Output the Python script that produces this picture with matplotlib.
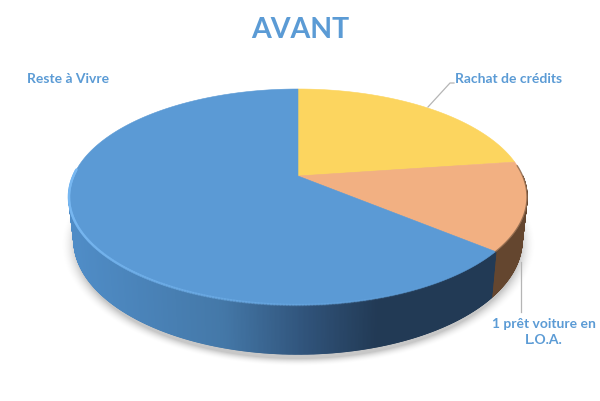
import numpy as np
import matplotlib
matplotlib.use("Agg")
import matplotlib.pyplot as plt
from matplotlib.collections import PolyCollection, LineCollection
from matplotlib.colors import LinearSegmentedColormap

title = "AVANT"
categories = ["Rachat de crédits", "1 prêt voiture en\nL.O.A.", "Reste à Vivre"]
values = [22.8, 13.2, 64.0]
colors = ["#FCD55F", "#F2B082", "#5B9AD5"]

plt.rcParams["font.family"] = ["Lato", "DejaVu Sans"]
fig = plt.figure(figsize=(6, 4.01), dpi=100)
ax = fig.add_axes([0, 0, 1, 1])
ax.set_xlim(0, 600)
ax.set_ylim(401, 0)
ax.axis("off")

cx, top_cy, rx, ry = 298.0, 197.0, 229.0, 108.0
bot_cy, bot_rx, bot_ry = 240.0, 224.0, 114.0
a = 21.0 / 108.0


def project(theta, y0=top_cy, sx=rx, sy=ry):
    """Perspective view of a disc; theta is clockwise from 12 o'clock."""
    u, v = np.sin(theta), np.cos(theta)
    k = 1 + a * v
    return cx + sx * u * np.sqrt(1 - a * a) / k, y0 - sy * (v + a) / k


# soft ground shadow
yy, xx = np.mgrid[0:401, 0:600]
r = np.hypot((xx - cx) / (bot_rx + 4), (yy - bot_cy - 4) / (bot_ry + 3))
alpha = np.clip((1.045 - r) / 0.07, 0, 1) ** 2 * 0.22
shadow = np.zeros((401, 600, 4))
shadow[..., 3] = alpha
ax.imshow(shadow, extent=(0, 600, 401, 0), aspect="auto", zorder=1)
ax.set_xlim(0, 600)
ax.set_ylim(401, 0)

edges = np.cumsum([0] + values) / sum(values) * 2 * np.pi
blue_cmap = LinearSegmentedColormap.from_list(
    "side", [(0, "#4F8CC6"), (0.35, "#4478A8"), (0.55, "#30537A"), (0.72, "#223A55"), (1, "#223A55")])
brown = "#64462F"
x_break = project(np.array([edges[2]]))[0][0]

# side wall of the visible front half
th = np.linspace(np.pi / 2, 3 * np.pi / 2, 721)
quads, fcs = [], []
for t0, t1 in zip(th[:-1], th[1:]):
    xa, ya = project(np.array([t0, t1]))
    xb, yb = project(np.array([t1, t0]), bot_cy, bot_rx, bot_ry)
    quads.append(np.column_stack([np.r_[xa, xb], np.r_[ya, yb]]))
    tm = (t0 + t1) / 2
    if tm < edges[2]:
        fcs.append(matplotlib.colors.to_rgba(brown))
    else:
        xm = xa.mean()
        fcs.append(blue_cmap(np.clip((xm - (cx - bot_rx)) / (x_break - (cx - bot_rx)), 0, 1)))
ax.add_collection(PolyCollection(quads, facecolors=fcs, edgecolors=fcs, linewidths=1.0, zorder=2))

# top face
apex_y = top_cy - 21.0
for i, c in enumerate(colors):
    t = np.linspace(edges[i], edges[i + 1], 300)
    x, y = project(t)
    ax.fill(np.r_[cx, x], np.r_[apex_y, y], facecolor=c, edgecolor=c, linewidth=0.4, zorder=3)

# highlight along the blue rim, shadow along the right rim
t = np.linspace(edges[2] + 0.02, 2 * np.pi * 0.76, 220)
x, y = project(t)
segs = np.stack([np.column_stack([x[:-1], y[:-1]]), np.column_stack([x[1:], y[1:]])], axis=1)
fade = np.linspace(0, 1, len(segs)) ** 1.5
rim = np.zeros((len(segs), 4))
rim[:, :3] = matplotlib.colors.to_rgb("#78B8F2")
rim[:, 3] = fade
ax.add_collection(LineCollection(segs, colors=rim, linewidths=1.8, zorder=4, capstyle="round"))
t = np.linspace(np.pi / 2 - 0.1, edges[2], 80)
x, y = project(t)
ax.plot(x, y, color="#7A5A42", lw=1.0, alpha=0.7, zorder=4)

# leader lines
ax.plot([428, 450, 454], [107, 83, 83], color="#B5B5B5", lw=0.9, zorder=5)
ax.plot([521, 521], [262, 312], color="#B5B5B5", lw=0.9, zorder=5)

text_c = "#5B9BD5"
ax.text(300, 30, title, color=text_c, fontsize=20.5, fontweight="bold", ha="center", va="center")
ax.text(455, 79, categories[0], color=text_c, fontsize=10, fontweight="bold", ha="left", va="center")
ax.text(544, 332, categories[1], color=text_c, fontsize=10, fontweight="bold", ha="center",
        va="center", linespacing=1.35)
ax.text(27, 79, categories[2], color=text_c, fontsize=10, fontweight="bold", ha="left", va="center")

fig.savefig("out.png", dpi=100)
